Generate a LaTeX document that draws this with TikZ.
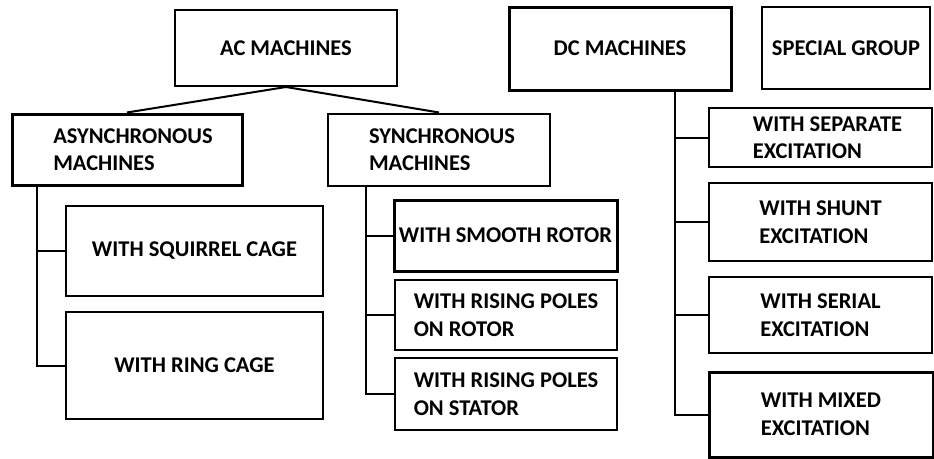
\documentclass[tikz,border=0pt]{standalone}
\usepackage{fontspec}
\setmainfont{Carlito}
\usetikzlibrary{positioning}

\tikzset{
  box/.style={draw, line width=2pt, fill=white, align=left, inner sep=2pt,
    font=\bfseries\fontsize{22.5}{27.5}\selectfont},
  heavy/.style={line width=3pt},
  conn/.style={line width=2pt},
}

\begin{document}
\begin{tikzpicture}[x=1pt,y=-1pt]
\useasboundingbox (0,0) rectangle (934,458);

\node[box, minimum width=222, minimum height=76] (ac) at (286,48) {AC MACHINES};
\node[box, heavy, minimum width=230, minimum height=71] (async) at (127,149.5) {\hspace*{12pt}ASYNCHRONOUS\\\hspace*{12pt}MACHINES};
\node[box, minimum width=222, minimum height=72] (sync) at (439,149.5) {\hspace*{6pt}SYNCHRONOUS\\\hspace*{6pt}MACHINES};
\node[box, minimum width=257, minimum height=90] (squirrel) at (194.5,251) {WITH SQUIRREL CAGE};
\node[box, minimum width=257, minimum height=107] (ring) at (194.5,365.5) {WITH RING CAGE};
\node[box, heavy, minimum width=223, minimum height=71] (smooth) at (505.5,235.5) {WITH SMOOTH ROTOR};
\node[box, minimum width=222, minimum height=70] (rotor) at (506,315) {WITH RISING POLES\\ON ROTOR};
\node[box, minimum width=222, minimum height=72] (stator) at (506,394) {WITH RISING POLES\\ON STATOR};

\node[box, heavy, minimum width=222, minimum height=83] (dc) at (620,48.5) {DC MACHINES};
\node[box, minimum width=168, minimum height=82] (special) at (846,48) {SPECIAL GROUP};
\node[box, minimum width=223, minimum height=59] (sep) at (820.5,137.5) {\hspace*{14pt}WITH SEPARATE\\\hspace*{14pt}EXCITATION};
\node[box, minimum width=223, minimum height=78] (shunt) at (820.5,222) {WITH SHUNT\\EXCITATION};
\node[box, minimum width=223, minimum height=76] (serial) at (820.5,315) {WITH SERIAL\\EXCITATION};
\node[box, heavy, minimum width=224, minimum height=85] (mixed) at (821,414.5) {WITH MIXED\\EXCITATION};

\draw[conn] (ac.south) -- (async.north);
\draw[conn] (ac.south) -- (sync.north);
\draw[conn] ([xshift=26]async.south west) |- (squirrel.west);
\draw[conn] ([xshift=26]async.south west) |- (ring.west);
\draw[conn] ([xshift=39]sync.south west) |- (smooth.west);
\draw[conn] ([xshift=39]sync.south west) |- (rotor.west);
\draw[conn] ([xshift=39]sync.south west) |- (stator.west);
\draw[conn] ([xshift=55]dc.south) |- (sep.west);
\draw[conn] ([xshift=55]dc.south) |- (shunt.west);
\draw[conn] ([xshift=55]dc.south) |- (serial.west);
\draw[conn] ([xshift=55]dc.south) |- (mixed.west);
\end{tikzpicture}
\end{document}
